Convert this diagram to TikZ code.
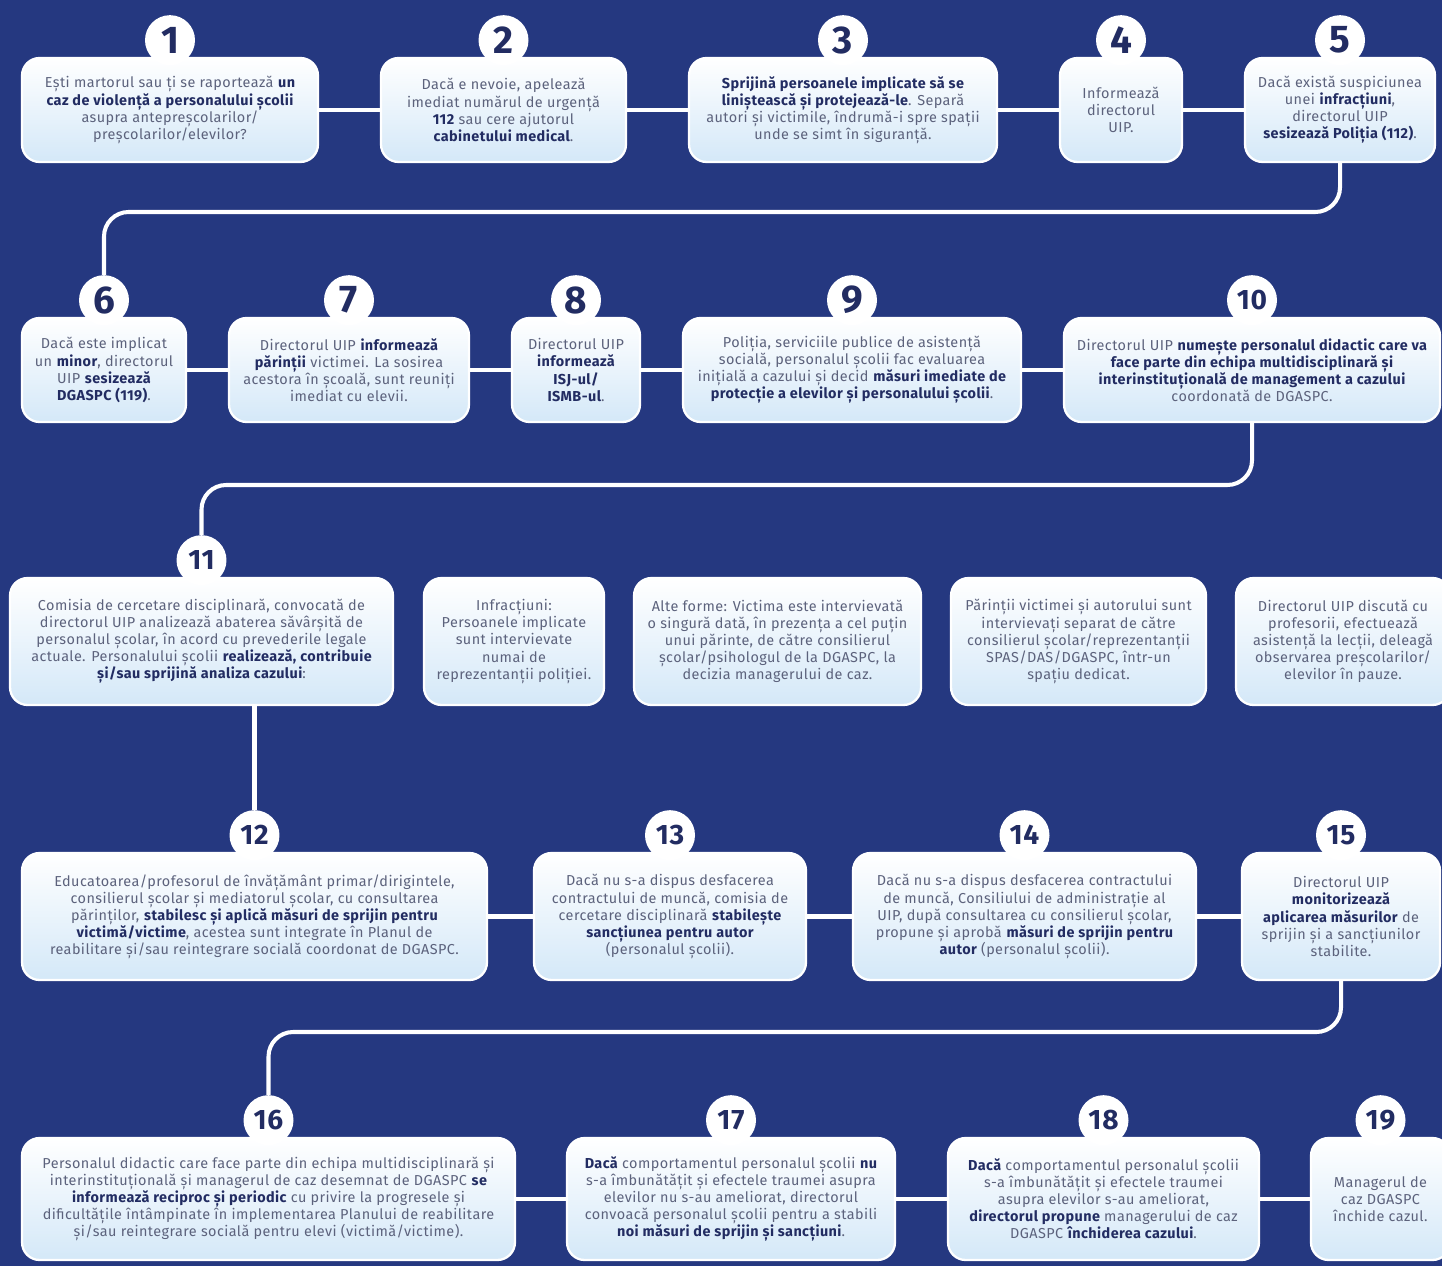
\documentclass[tikz,border=0pt]{standalone}
\usepackage{fontspec}
\setmainfont{Fira Sans}[LetterSpace=3]
\usetikzlibrary{calc}
\definecolor{bgnavy}{RGB}{37,56,128}
\definecolor{boxblue}{RGB}{212,232,248}
\definecolor{txtgray}{RGB}{92,98,124}
\definecolor{darknavy}{RGB}{34,44,98}
\newcommand{\kw}[1]{\textbf{\color{darknavy}#1}}

\tikzset{
  stepbox/.style={draw=white, line width=1.3pt, rounded corners=10pt, top color=white, bottom color=boxblue,
    text=txtgray, align=center, inner sep=2pt, font=\fontsize{8.2}{9.7}\selectfont},
  short/.style={minimum height=2.08cm},
  tall/.style={minimum height=2.54cm},
  numcirc/.style={circle, fill=white, minimum size=1cm, inner sep=0pt, text=darknavy,
    font=\bfseries\fontsize{22}{22}\selectfont},
  link/.style={white, line width=2.3pt, rounded corners=14pt},
}

\begin{document}
\begin{tikzpicture}[x=0.02cm, y=-0.02cm]

\useasboundingbox (0,0) rectangle (1442,1266);
\clip (0,0) rectangle (1442,1266);
\fill[bgnavy] (0,0) rectangle (1442,1266);

% rand 1
\node[stepbox, short, minimum width=5.92cm] (b1) at (170,110) {Ești martorul sau ți se raportează \kw{un}\\ \kw{caz de violență a personalului școlii}\\ asupra antepreșcolarilor/\\ preșcolarilor/elevilor?};
\node[stepbox, short, minimum width=4.9cm] (b2) at (503.5,110) {Dacă e nevoie, apelează\\ imediat numărul de urgență\\ \kw{112} sau cere ajutorul\\ \kw{cabinetului medical}.};
\node[stepbox, short, minimum width=6.16cm] (b3) at (843,110) {\kw{Sprijină persoanele implicate  să se}\\ \kw{liniștească și protejează-le}. Separă\\ autori și victimile, îndrumă-i spre spații\\ unde se simt în siguranță.};
\node[stepbox, short, minimum width=2.44cm] (b4) at (1121,110) {Informează\\ directorul\\ UIP.};
\node[stepbox, short, minimum width=3.8cm] (b5) at (1340,110) {Dacă există suspiciunea\\ unei \kw{infracțiuni},\\ directorul UIP\\ \kw{sesizează Poliția (112)}.};

% rand 2
\node[stepbox, short, minimum width=3.28cm] (b6) at (104,370) {Dacă este implicat\\ un \kw{minor}, directorul\\ UIP \kw{sesizează}\\ \kw{DGASPC (119)}.};
\node[stepbox, short, minimum width=4.8cm] (b7) at (349,370) {Directorul UIP \kw{informează}\\ \kw{părinții} victimei. La sosirea\\ acestora în școală, sunt reuniți\\ imediat cu elevii.};
\node[stepbox, short, minimum width=2.56cm] (b8) at (576,370) {Directorul UIP\\ \kw{informează}\\ \kw{ISJ-ul/}\\ \kw{ISMB-ul}.};
\node[stepbox, short, minimum width=6.76cm] (b9) at (852,370) {Poliția, serviciile publice de asistență\\ socială, personalul școlii fac evaluarea\\ inițială a cazului și decid \kw{măsuri imediate de}\\ \kw{protecție a elevilor și personalului școlii}.};
\node[stepbox, short, minimum width=7.52cm] (b10) at (1252,370) {Directorul UIP \kw{numește personalul didactic care va}\\ \kw{face parte din echipa multidisciplinară și}\\ \kw{interinstituțională de management a cazului}\\ coordonată de DGASPC.};

% rand 3
\node[stepbox, tall, minimum width=7.66cm] (b11) at (201.5,641.5) {Comisia de cercetare disciplinară, convocată de\\ directorul UIP analizează abaterea săvârșită de\\ personalul școlar, în acord cu prevederile legale\\ actuale. Personalului școlii \kw{realizează, contribuie}\\ \kw{și/sau sprijină analiza cazului}:};
\node[stepbox, tall, minimum width=3.6cm] (i1) at (514,641.5) {Infracțiuni:\\ Persoanele implicate\\ sunt intervievate\\ numai de\\ reprezentanții poliției.};
\node[stepbox, tall, minimum width=5.74cm] (i2) at (777.5,641.5) {Alte forme: Victima este intervievată\\ o singură dată, în prezența a cel puțin\\ unui părinte, de către consilierul\\ școlar/psihologul de la DGASPC, la\\ decizia managerului de caz.};
\node[stepbox, tall, minimum width=5.1cm] (i3) at (1078.5,641.5) {Părinții victimei și autorului sunt\\ intervievați separat de către\\ consilierul școlar/reprezentanții\\ SPAS/DAS/DGASPC, într-un\\ spațiu dedicat.};
\node[stepbox, tall, minimum width=4.28cm] (i4) at (1343,641.5) {Directorul UIP discută cu\\ profesorii, efectuează\\ asistență la lecții, deleagă\\ observarea preșcolarilor/\\ elevilor în pauze.};

% rand 4
\node[stepbox, tall, minimum width=9.3cm] (b12) at (254.5,916.5) {Educatoarea/profesorul de învățământ primar/dirigintele,\\ consilierul școlar și mediatorul școlar, cu consultarea\\ părinților, \kw{stabilesc și aplică măsuri de sprijin pentru}\\ \kw{victimă/victime}, acestea sunt integrate în Planul de\\ reabilitare și/sau reintegrare socială coordonat de DGASPC.};
\node[stepbox, tall, minimum width=5.44cm] (b13) at (670,916.5) {Dacă nu s-a dispus desfacerea\\ contractului de muncă, comisia de\\ cercetare disciplinară \kw{stabilește}\\ \kw{sancțiunea pentru autor}\\ (personalul școlii).};
\node[stepbox, tall, minimum width=6.86cm] (b14) at (1024.5,916.5) {Dacă nu s-a dispus desfacerea contractului\\ de muncă, Consiliului de administrație al\\ UIP, după consultarea cu consilierul școlar,\\ propune și aprobă \kw{măsuri de sprijin pentru}\\ \kw{autor} (personalul școlii).};
\node[stepbox, tall, minimum width=3.96cm] (b15) at (1341,916.5) {Directorul UIP\\ \kw{monitorizează}\\ \kw{aplicarea măsurilor} de\\ sprijin și a sancțiunilor\\ stabilite.};

% rand 5
\node[stepbox, minimum height=2.44cm, minimum width=9.86cm] (b16) at (268.5,1199) {Personalul didactic care face parte din echipa multidisciplinară și\\ interinstituțională și managerul de caz desemnat de DGASPC \kw{se}\\ \kw{informează reciproc și periodic} cu privire la progresele și\\ dificultățile întâmpinate în implementarea Planului de reabilitare\\ și/sau reintegrare socială pentru elevi (victimă/victime).};
\node[stepbox, minimum height=2.44cm, minimum width=6.56cm] (b17) at (731,1199) {\kw{Dacă} comportamentul personalul școlii \kw{nu}\\ s-a îmbunătățit și efectele traumei asupra\\ elevilor nu s-au ameliorat, directorul\\ convoacă personalul școlii pentru a stabili\\ \kw{noi măsuri de sprijin și sancțiuni}.};
\node[stepbox, minimum height=2.44cm, minimum width=6.22cm] (b18) at (1103.5,1199) {\kw{Dacă} comportamentul personalul școlii\\ s-a îmbunătățit și efectele traumei\\ asupra elevilor s-au ameliorat,\\ \kw{directorul propune} managerului de caz\\ DGASPC \kw{închiderea cazului}.};
\node[stepbox, minimum height=2.44cm, minimum width=2.78cm] (b19) at (1380.5,1199) {Managerul de\\ caz DGASPC\\ închide cazul.};

% numere
\foreach \n in {1,...,9}
  \node[numcirc] (c\n) at ([yshift=9.5pt]b\n.north) {\n};
\foreach \n in {10,...,19}
  \node[numcirc, font=\bfseries\fontsize{16}{16}\selectfont] (c\n) at ([yshift=9.5pt]b\n.north) {\n};

% legaturi
\foreach \p/\q in {b1/b2,b2/b3,b3/b4,b4/b5,b6/b7,b7/b8,b8/b9,b9/b10,b12/b13,b13/b14,b14/b15,b16/b17,b17/b18,b18/b19}
  \draw[link] (\p) -- (\q);
\draw[link] (b5.south) -- (b5.south |- 0,212) -| (c6.north);
\draw[link] (b10.south) -- (b10.south |- 0,485) -| (c11.north);
\draw[link] (b11.south -| c12) -- (c12.north);
\draw[link] (b15.south) -- (b15.south |- 0,1032) -| (c16.north);

\end{tikzpicture}
\end{document}
